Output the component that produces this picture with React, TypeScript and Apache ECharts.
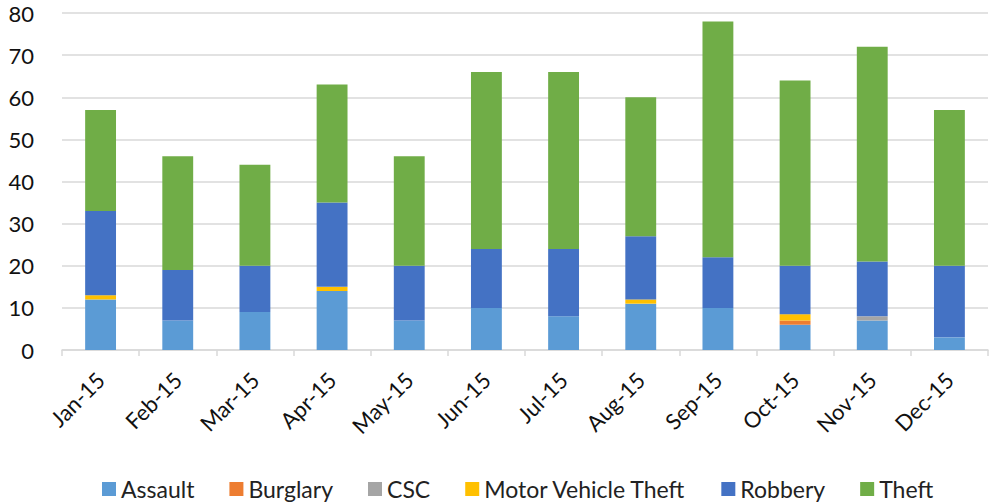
import React, { useEffect, useRef } from "react";
import * as echarts from "echarts";

const categories = ["Jan-15", "Feb-15", "Mar-15", "Apr-15", "May-15", "Jun-15", "Jul-15", "Aug-15", "Sep-15", "Oct-15", "Nov-15", "Dec-15"];
const assault = [12, 7, 9, 14, 7, 10, 8, 11, 10, 6, 7, 3];
const burglary = [0, 0, 0, 0, 0, 0, 0, 0, 0, 1, 0, 0];
const csc = [0, 0, 0, 0, 0, 0, 0, 0, 0, 0, 1, 0];
const motorVehicleTheft = [1, 0, 0, 1, 0, 0, 0, 1, 0, 1.5, 0, 0];
const robbery = [20, 12, 11, 20, 13, 14, 16, 15, 12, 11.5, 13, 17];
const theft = [24, 27, 24, 28, 26, 42, 42, 33, 56, 44, 51, 37];
const yTicks = [0, 10, 20, 30, 40, 50, 60, 70, 80];

const seriesDefs = [
  { name: "Assault", data: assault, color: "#5B9BD5" },
  { name: "Burglary", data: burglary, color: "#ED7D31" },
  { name: "CSC", data: csc, color: "#A5A5A5" },
  { name: "Motor Vehicle Theft", data: motorVehicleTheft, color: "#FFC000" },
  { name: "Robbery", data: robbery, color: "#4472C4" },
  { name: "Theft", data: theft, color: "#70AD47" },
];

const FONT = "Lato";

export default function App() {
  const ref = useRef<HTMLDivElement>(null);
  useEffect(() => {
    if (!ref.current) return;
    const chart = echarts.init(ref.current, null, { renderer: "svg" });
    chart.setOption({
      animation: false,
      textStyle: { fontFamily: FONT },
      grid: { left: 62, right: 5, top: 13, bottom: 153, containLabel: false },
      legend: {
        top: 477,
        left: 102,
        padding: 0,
        itemWidth: 14,
        itemHeight: 14,
        itemGap: 35,
        icon: "rect",
        textStyle: { fontFamily: FONT, fontSize: 23, color: "#222", lineHeight: 24 },
        data: seriesDefs.map((s) => s.name),
      },
      xAxis: {
        type: "category",
        data: categories,
        axisLine: { show: true, lineStyle: { color: "#d9d9d9", width: 1.5 } },
        axisTick: { show: true, length: 6, lineStyle: { color: "#d9d9d9", width: 1.5 } },
        axisLabel: { rotate: 45, fontSize: 22, color: "#111", margin: 26, fontFamily: FONT },
      },
      yAxis: {
        type: "value",
        min: yTicks[0],
        max: yTicks[yTicks.length - 1],
        interval: 10,
        axisLine: { show: false },
        axisTick: { show: false },
        axisLabel: { fontSize: 22, color: "#111", margin: 28, fontFamily: FONT },
        splitLine: { lineStyle: { color: "#d9d9d9", width: 1.5 } },
      },
      series: seriesDefs.map((s) => ({
        name: s.name,
        type: "bar",
        stack: "total",
        barWidth: "40%",
        data: s.data,
        itemStyle: { color: s.color },
      })),
    });
    return () => chart.dispose();
  }, []);
  return (
    <div
      ref={ref}
      style={{ position: "absolute", left: 0, top: 0, width: 993, height: 503, background: "#fff" }}
    />
  );
}
